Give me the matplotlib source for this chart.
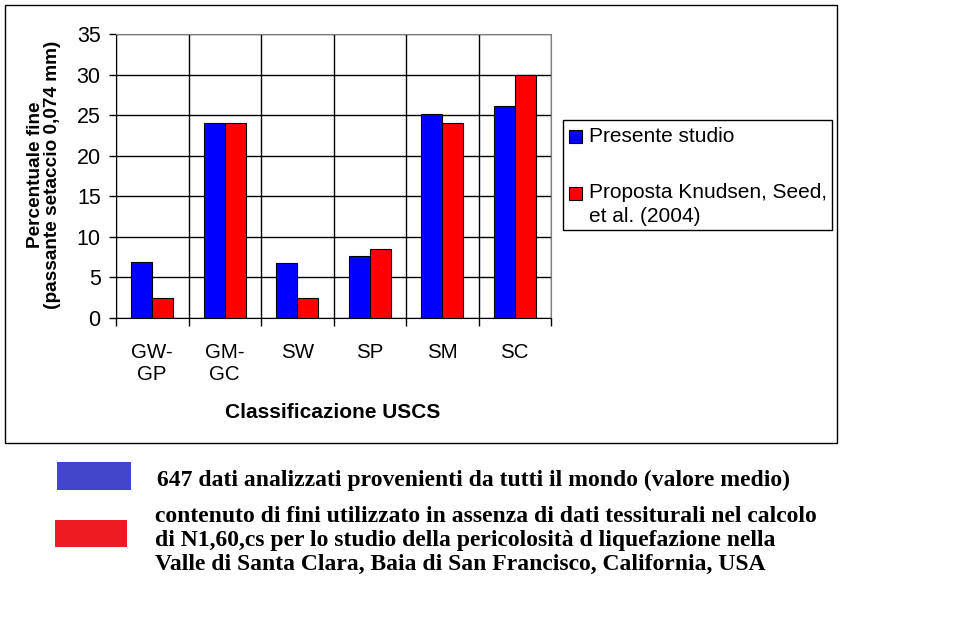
import numpy as np
import matplotlib
matplotlib.use("Agg")
import matplotlib.pyplot as plt
from matplotlib.patches import Rectangle

# Data
categories = ["GW-\nGP", "GM-\nGC", "SW", "SP", "SM", "SC"]
presente_studio = [6.9, 24.0, 6.8, 7.6, 25.1, 26.1]
proposta_knudsen = [2.5, 24.0, 2.5, 8.5, 24.0, 30.0]
y_ticks = [0, 5, 10, 15, 20, 25, 30, 35]

legend_labels = ["Presente studio", "Proposta Knudsen, Seed,\net al. (2004)"]
note_lines = [
    "647 dati analizzati provenienti da tutti il mondo (valore medio)",
    "contenuto di fini utilizzato in assenza di dati tessiturali nel calcolo\n"
    "di N1,60,cs per lo studio della pericolosità d liquefazione nella\n"
    "Valle di Santa Clara, Baia di San Francisco, California, USA",
]

W, H = 971, 620
plt.rcParams['font.family'] = ['Liberation Sans', 'DejaVu Sans']

fig = plt.figure(figsize=(W / 100, H / 100), dpi=100)
fig.patch.set_facecolor('white')


def fx(px):
    return px / W


def fy(py):
    return 1 - py / H


# Outer chart border
fig.patches.append(Rectangle((fx(5), fy(443)), fx(832), 438 / H, transform=fig.transFigure,
                             fill=False, edgecolor='black', linewidth=1))

# Plot area
ax = fig.add_axes([fx(116), fy(318), fx(551) - fx(116), fy(34) - fy(318)])
x = np.arange(len(categories))
bar_w = 0.29
ax.bar(x - bar_w / 2, presente_studio, bar_w, color='#0000FF', edgecolor='black', linewidth=0.8, zorder=3)
ax.bar(x + bar_w / 2, proposta_knudsen, bar_w, color='#FF0000', edgecolor='black', linewidth=0.8, zorder=3)

ax.set_xlim(-0.5, len(categories) - 0.5)
ax.set_ylim(0, 35)
ax.set_yticks(y_ticks)
ax.tick_params(axis='y', labelsize=15.5, direction='out', length=5, width=1, pad=6)

ax.set_xticks(x)
ax.set_xticklabels(categories, fontsize=14.8, linespacing=1.2, va='top')
ax.tick_params(axis='x', which='major', length=0, pad=18)
ax.set_xticks(np.arange(len(categories) + 1) - 0.5, minor=True)
ax.tick_params(axis='x', which='minor', direction='out', length=6, width=1)

ax.grid(True, axis='y', color='black', linewidth=1, zorder=0)
ax.grid(True, axis='x', which='minor', color='black', linewidth=1, zorder=0)
for s in ['top', 'right']:
    ax.spines[s].set_color('#808080')
for s in ['left', 'bottom']:
    ax.spines[s].set_color('black')

fig.text(fx(44), fy(175), "Percentuale fine\n(passante setaccio 0,074 mm)", rotation=90,
         ha='center', va='center', fontsize=13.7, fontweight='bold', linespacing=0.95)
fig.text(fx(333), fy(412), "Classificazione USCS", ha='center', va='center',
         fontsize=15, fontweight='bold')

# Legend box
fig.patches.append(Rectangle((fx(563), fy(230)), fx(832) - fx(563), 110 / H, transform=fig.transFigure,
                             fill=False, edgecolor='black', linewidth=1))
fig.patches.append(Rectangle((fx(569), fy(143)), 13 / W, 13 / H, transform=fig.transFigure,
                             facecolor='#0000FF', edgecolor='black', linewidth=0.8))
fig.patches.append(Rectangle((fx(569), fy(200)), 13 / W, 13 / H, transform=fig.transFigure,
                             facecolor='#FF0000', edgecolor='black', linewidth=0.8))
fig.text(fx(589), fy(137), legend_labels[0], ha='left', va='center', fontsize=15)
fig.text(fx(589), fy(183), legend_labels[1], ha='left', va='top', fontsize=15, linespacing=1.3)

# Notes below the chart
fig.patches.append(Rectangle((fx(57), fy(490)), 74 / W, 28 / H, transform=fig.transFigure,
                             facecolor='#4146CC', edgecolor='none'))
fig.patches.append(Rectangle((fx(55), fy(547)), 72 / W, 27 / H, transform=fig.transFigure,
                             facecolor='#ED1C24', edgecolor='none'))
serif = ['Liberation Serif', 'DejaVu Serif']
fig.text(fx(157), fy(480), note_lines[0], ha='left', va='center', fontsize=17,
         fontweight='bold', family=serif)
fig.text(fx(155), fy(506), note_lines[1], ha='left', va='top', fontsize=17,
         fontweight='bold', family=serif, linespacing=1.2)

fig.savefig("out.png", dpi=100)
